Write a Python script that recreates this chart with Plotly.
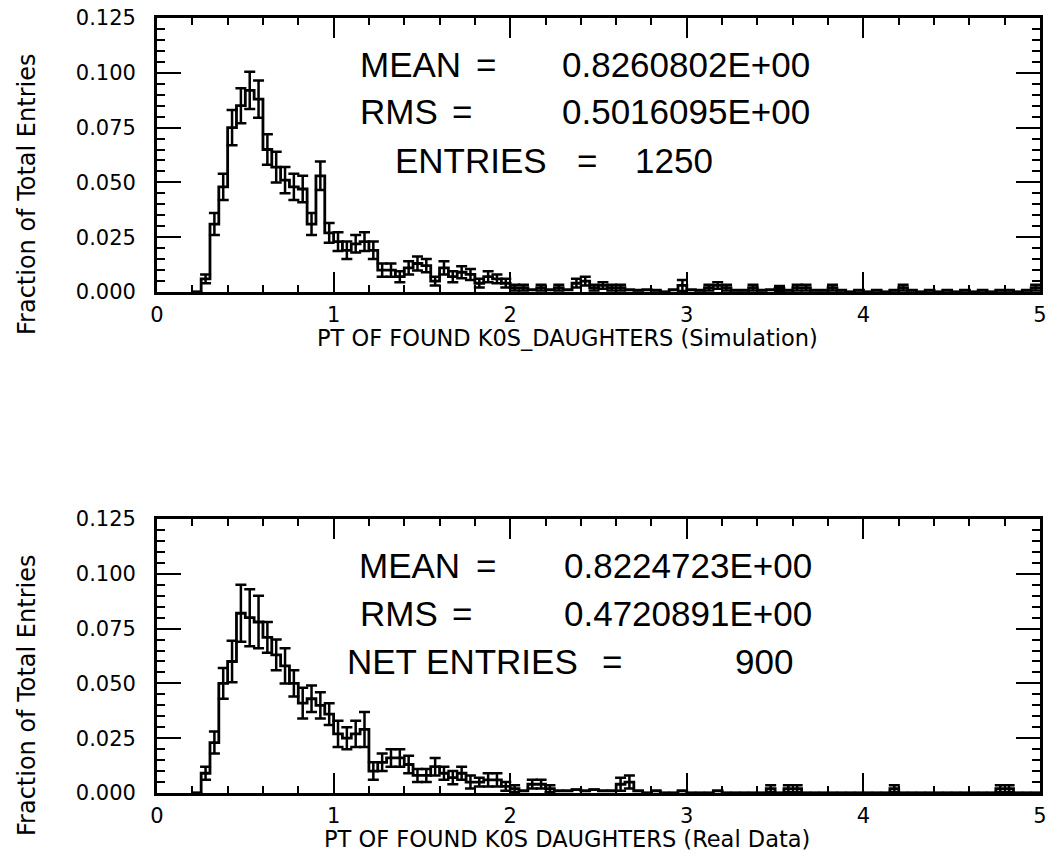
import plotly.graph_objects as go

# Histogram bin lower edges (GeV/c), bin width 0.05
bin_left = [
    0.20, 0.25, 0.30, 0.35, 0.40, 0.45, 0.50, 0.55, 0.60, 0.65,
    0.70, 0.75, 0.80, 0.85, 0.90, 0.95, 1.00, 1.05, 1.10, 1.15,
    1.20, 1.25, 1.30, 1.35, 1.40, 1.45, 1.50, 1.55, 1.60, 1.65,
    1.70, 1.75, 1.80, 1.85, 1.90, 1.95, 2.00, 2.05, 2.10, 2.15,
    2.20, 2.25, 2.30, 2.35, 2.40, 2.45, 2.50, 2.55, 2.60, 2.65,
    2.70, 2.75, 2.80, 2.85, 2.90, 2.95, 3.00, 3.05, 3.10, 3.15,
    3.20, 3.25, 3.30, 3.35, 3.40, 3.45, 3.50, 3.55, 3.60, 3.65,
    3.70, 3.75, 3.80, 3.85, 3.90, 3.95, 4.00, 4.05, 4.10, 4.15,
    4.20, 4.25, 4.30, 4.35, 4.40, 4.45, 4.50, 4.55, 4.60, 4.65,
    4.70, 4.75, 4.80, 4.85, 4.90, 4.95,
]
bin_width = 0.05

# Simulation: fraction of total entries per bin and its statistical error
sim_frac = [
    0.000, 0.006, 0.031, 0.048, 0.075, 0.085, 0.092, 0.088, 0.065, 0.057,
    0.051, 0.048, 0.047, 0.031, 0.053, 0.027, 0.023, 0.019, 0.022, 0.023,
    0.019, 0.010, 0.010, 0.007, 0.011, 0.013, 0.012, 0.005, 0.011, 0.007,
    0.009, 0.008, 0.004, 0.007, 0.006, 0.004, 0.002, 0.002, 0.001, 0.002,
    0.001, 0.002, 0.001, 0.004, 0.005, 0.002, 0.003, 0.002, 0.002, 0.001,
    0.0008, 0.001, 0.0008, 0.0, 0.001, 0.003, 0.001, 0.0008, 0.002, 0.003,
    0.002, 0.0008, 0.0008, 0.002, 0.0008, 0.001, 0.0016, 0.0008, 0.002, 0.002,
    0.0008, 0.0008, 0.002, 0.0008, 0.0, 0.0008, 0.0, 0.0008, 0.0, 0.0008,
    0.002, 0.0008, 0.0, 0.0008, 0.0, 0.0008, 0.0, 0.0008, 0.0, 0.0008,
    0.0, 0.0008, 0.0008, 0.0, 0.0008, 0.002,
]
sim_err = [
    0.0, 0.002, 0.005, 0.006, 0.008, 0.008, 0.0085, 0.0085, 0.007, 0.007,
    0.006, 0.006, 0.006, 0.005, 0.0065, 0.0045, 0.0043, 0.004, 0.004, 0.0043,
    0.004, 0.003, 0.003, 0.0025, 0.003, 0.0032, 0.003, 0.002, 0.003, 0.0025,
    0.0027, 0.0025, 0.002, 0.0025, 0.002, 0.002, 0.0013, 0.0013, 0.0, 0.0013,
    0.0, 0.0013, 0.0, 0.002, 0.002, 0.0013, 0.0015, 0.0013, 0.0013, 0.0,
    0.0, 0.0, 0.0, 0.0, 0.0, 0.0025, 0.0, 0.0, 0.0013, 0.0015,
    0.0013, 0.0, 0.0, 0.0013, 0.0, 0.0, 0.0011, 0.0, 0.0013, 0.0013,
    0.0, 0.0, 0.0013, 0.0, 0.0, 0.0, 0.0, 0.0, 0.0, 0.0,
    0.0013, 0.0, 0.0, 0.0, 0.0, 0.0, 0.0, 0.0, 0.0, 0.0,
    0.0, 0.0, 0.0, 0.0, 0.0, 0.0013,
]

# Real data (background subtracted)
dat_frac = [
    0.000, 0.009, 0.023, 0.050, 0.060, 0.082, 0.080, 0.078, 0.071, 0.063,
    0.058, 0.050, 0.041, 0.043, 0.040, 0.036, 0.027, 0.025, 0.027, 0.029,
    0.010, 0.014, 0.016, 0.016, 0.013, 0.008, 0.008, 0.012, 0.009, 0.007,
    0.009, 0.005, 0.005, 0.006, 0.006, 0.003, 0.002, 0.001, 0.004, 0.004,
    0.002, 0.001, 0.001, 0.0015, 0.001, 0.0015, 0.001, 0.001, 0.004, 0.005,
    0.001, 0.0, 0.001, 0.0, 0.0, 0.001, 0.0, 0.0, 0.0, 0.001,
    0.0, 0.0, 0.0, 0.0, 0.0, 0.002, 0.0, 0.002, 0.002, 0.0,
    0.0, 0.0, 0.0, 0.0, 0.0, 0.0, 0.0, 0.0, 0.0, 0.002,
    0.0, 0.0, 0.0, 0.0, 0.0, 0.0, 0.0, 0.0, 0.0, 0.0,
    0.0, 0.002, 0.002, 0.0, 0.0, 0.0,
]
dat_err = [
    0.0, 0.003, 0.005, 0.007, 0.0095, 0.013, 0.013, 0.012, 0.007, 0.007,
    0.008, 0.006, 0.007, 0.006, 0.006, 0.005, 0.006, 0.005, 0.006, 0.008,
    0.004, 0.004, 0.004, 0.004, 0.004, 0.003, 0.003, 0.004, 0.003, 0.003,
    0.003, 0.003, 0.002, 0.003, 0.003, 0.002, 0.0015, 0.0, 0.002, 0.002,
    0.0015, 0.0, 0.0, 0.0, 0.0, 0.0, 0.0, 0.0, 0.003, 0.003,
    0.0, 0.0, 0.0, 0.0, 0.0, 0.0, 0.0, 0.0, 0.0, 0.0,
    0.0, 0.0, 0.0, 0.0, 0.0, 0.0015, 0.0, 0.0015, 0.0015, 0.0,
    0.0, 0.0, 0.0, 0.0, 0.0, 0.0, 0.0, 0.0, 0.0, 0.0015,
    0.0, 0.0, 0.0, 0.0, 0.0, 0.0, 0.0, 0.0, 0.0, 0.0,
    0.0, 0.0015, 0.0015, 0.0, 0.0, 0.0,
]

x_ticks = [0, 1, 2, 3, 4, 5]
y_ticks = [0.000, 0.025, 0.050, 0.075, 0.100, 0.125]

panels = [
    {
        "frac": sim_frac, "err": sim_err,
        "xtitle": "PT OF FOUND K0S_DAUGHTERS (Simulation)",
        "labels": ["MEAN", "RMS", "ENTRIES"],
        "values": ["0.8260802E+00", "0.5016095E+00", "1250"],
    },
    {
        "frac": dat_frac, "err": dat_err,
        "xtitle": "PT OF FOUND K0S DAUGHTERS (Real Data)",
        "labels": ["MEAN", "RMS", "NET ENTRIES"],
        "values": ["0.8224723E+00", "0.4720891E+00", "900"],
    },
]

W, H = 1058, 863
X0, X1 = 157, 1040
Y_TOPS = [18, 519]
PLOT_H = 274


def px(x):
    return x / W


def py(y):
    return 1 - y / H


fig = go.Figure()
font_num = dict(family="DejaVu Sans", size=21, color="black")
font_stat = dict(family="Liberation Sans", size=35, color="black")

# horizontal layout of the statistics lines: label start, "=" start, value anchor
stat_layout = [
    {"label_x": [358, 358, 393], "eq_x": [474, 450, 575],
     "val_x": [560, 560, 715], "val_anchor": ["left", "left", "right"]},
    {"label_x": [357, 358, 345], "eq_x": [474, 450, 600],
     "val_x": [562, 562, 795], "val_anchor": ["left", "left", "right"]},
]

for i, p in enumerate(panels):
    xa = "x" if i == 0 else "x2"
    ya = "y" if i == 0 else "y2"
    step_x = bin_left + [bin_left[-1] + bin_width]
    step_y = p["frac"] + [p["frac"][-1]]
    fig.add_trace(go.Scatter(
        x=step_x, y=step_y, mode="lines", line=dict(color="black", width=2.8, shape="hv"),
        xaxis=xa, yaxis=ya, showlegend=False, hoverinfo="skip"))
    centers = [b + bin_width / 2 for b in bin_left]
    fig.add_trace(go.Scatter(
        x=centers, y=p["frac"], mode="markers", marker=dict(size=1, color="black"),
        error_y=dict(type="data", array=p["err"], visible=True, color="black",
                     thickness=2.5, width=5.5),
        xaxis=xa, yaxis=ya, showlegend=False, hoverinfo="skip"))

    top = Y_TOPS[i]
    bot = top + PLOT_H
    axis_common = dict(
        showline=True, linecolor="black", linewidth=2.8, mirror="allticks",
        ticks="inside", tickcolor="black", tickwidth=2.4, showgrid=False,
        zeroline=False, tickfont=font_num, automargin=False,
    )
    xkey = "xaxis" if i == 0 else "xaxis2"
    ykey = "yaxis" if i == 0 else "yaxis2"
    fig.update_layout({
        xkey: dict(axis_common, domain=[px(X0), px(X1)], range=[0, 5],
                   tickvals=x_ticks, ticktext=[str(v) for v in x_ticks], ticklen=20,
                   minor=dict(dtick=0.2, ticklen=7, tickwidth=2.2, tickcolor="black",
                              ticks="inside"),
                   anchor="y" if i == 0 else "y2", ticklabelstandoff=2),
        ykey: dict(axis_common, domain=[py(bot), py(top)], range=[0, 0.125],
                   tickvals=y_ticks, ticktext=["%.3f" % v for v in y_ticks], ticklen=24,
                   minor=dict(dtick=0.005, ticklen=8, tickwidth=2.2, tickcolor="black",
                              ticks="inside"),
                   anchor="x" if i == 0 else "x2", ticklabelstandoff=14),
    })

    # axis titles
    fig.add_annotation(x=px(27), y=py(top + 177), xref="paper", yref="paper",
                       xanchor="center", yanchor="middle",
                       text="Fraction of Total Entries", textangle=-90, showarrow=False,
                       font=dict(family="DejaVu Sans", size=24, color="black"))
    fig.add_annotation(x=px(567), y=py(bot + 46), xref="paper", yref="paper",
                       xanchor="center", yanchor="middle",
                       text=p["xtitle"], showarrow=False,
                       font=dict(family="DejaVu Sans", size=22.5, color="black"))

    # statistics text
    lay = stat_layout[i]
    for j, (lab, val) in enumerate(zip(p["labels"], p["values"])):
        yy = py(top + 46 + 48 * j)
        fig.add_annotation(x=px(lay["label_x"][j]), y=yy, xref="paper", yref="paper",
                           text=lab, showarrow=False, xanchor="left", yanchor="middle",
                           font=font_stat)
        fig.add_annotation(x=px(lay["eq_x"][j]), y=yy, xref="paper", yref="paper",
                           text="=", showarrow=False, xanchor="left", yanchor="middle",
                           font=font_stat)
        fig.add_annotation(x=px(lay["val_x"][j]), y=yy, xref="paper", yref="paper",
                           text=val, showarrow=False, xanchor=lay["val_anchor"][j],
                           yanchor="middle", font=font_stat)

fig.update_layout(
    width=W, height=H, margin=dict(l=0, r=0, t=0, b=0),
    paper_bgcolor="white", plot_bgcolor="white", showlegend=False,
)

fig.write_html("out.html")
